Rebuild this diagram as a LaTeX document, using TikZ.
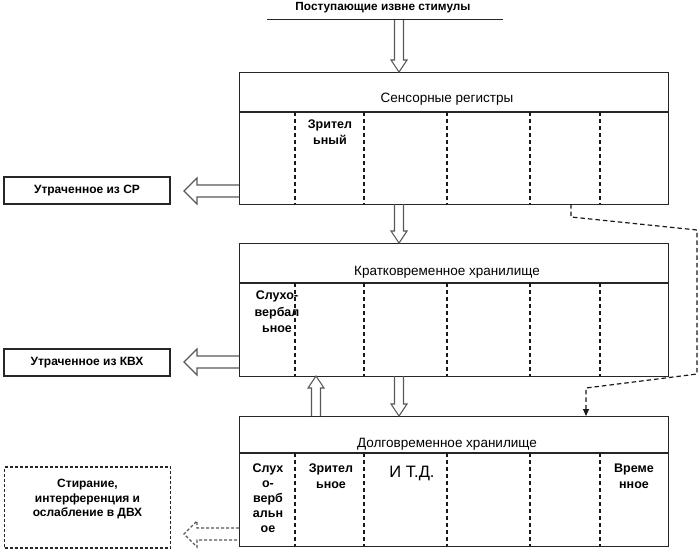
\documentclass[tikz,border=0pt]{standalone}
\usepackage{fontspec}
\setmainfont{Liberation Sans}
\usetikzlibrary{arrows.meta}
\newcommand\BArrDown[3]{\draw[barr] (#1-4.5,#2) -- (#1-4.5,#3-12) -- (#1-8,#3-12) -- (#1,#3) -- (#1+8,#3-12) -- (#1+4.5,#3-12) -- (#1+4.5,#2);}
\newcommand\BArrUp[3]{\draw[barr] (#1-4.5,#2) -- (#1-4.5,#3+12) -- (#1-8,#3+12) -- (#1,#3) -- (#1+8,#3+12) -- (#1+4.5,#3+12) -- (#1+4.5,#2);}
\newcommand\BArrLeft[4][]{\draw[barr,#1] (#3,#2-6) -- (#4+13,#2-6) -- (#4+13,#2-13) -- (#4,#2) -- (#4+13,#2+13) -- (#4+13,#2+6) -- (#3,#2+6);}
\begin{document}
\begin{tikzpicture}[x=1pt,y=-1pt,
  bx/.style={draw=black!85,line width=1.2pt,inner sep=0pt,anchor=north west,minimum width=429pt},
  sepline/.style={draw=black!85,line width=1.2pt},
  colsep/.style={draw=black!90,line width=1.1pt,dash pattern=on 4pt off 3pt},
  hdr/.style={font=\fontsize{13.5}{16}\selectfont,inner sep=0pt},
  cell/.style={font=\fontsize{12.5}{15.5}\selectfont\bfseries,align=center,inner sep=0pt,anchor=north},
  lbox/.style={draw=black!85,line width=1.1pt,minimum width=166pt,minimum height=27pt,inner sep=0pt,font=\fontsize{12}{14}\selectfont\bfseries},
  barr/.style={draw=black!65,line width=1.1pt,line join=miter},
  dline/.style={draw=black!90,line width=1.2pt,dash pattern=on 4.5pt off 3pt},
]
\useasboundingbox (0,0) rectangle (700,552);
\fill[white] (0,0) rectangle (700,552);

% top stimulus label
\node[font=\fontsize{11.8}{14}\selectfont\bfseries,inner sep=0pt] (stim) at (383,8) {Поступающие извне стимулы};
\coordinate (sl1) at (267,19);
\coordinate (sl2) at (503,19);
\draw[black!85,line width=1pt] (sl1) -- (sl2);

% Sensory registers
\node[bx,minimum height=132pt] (sr) at (239,72) {};
\draw[sepline] (239,112) -- (668,112);
\foreach \x in {295,364,447,530,600} \draw[colsep] (\x,112) -- (\x,204);
\node[hdr] (srt) at (447,99) {Сенсорные регистры};
\node[cell] (sr2) at (330,120) {Зрител\\ьный};

% Short-term store
\node[bx,minimum height=133pt] (kv) at (239,243) {};
\draw[sepline] (239,283) -- (668,283);
\foreach \x in {295,364,447,530,600} \draw[colsep] (\x,283) -- (\x,376);
\node[hdr] (kvt) at (447,272) {Кратковременное хранилище};
\node[cell,font=\fontsize{12.5}{16.5}\selectfont\bfseries] (kv1) at (277,291) {Слухо-\\вербал\\ьное};

% Long-term store
\node[bx,minimum height=130pt] (lt) at (239,416) {};
\draw[sepline] (239,453) -- (668,453);
\foreach \x in {295,364,447,530,600} \draw[colsep] (\x,453) -- (\x,546);
\node[hdr] (ltt) at (447,444) {Долговременное хранилище};
\node[cell,font=\fontsize{12.5}{14.8}\selectfont\bfseries] (lt1) at (268,464) {Слух\\о-\\верб\\альн\\ое};
\node[cell] (lt2) at (331,464) {Зрител\\ьное};
\node[font=\fontsize{16.5}{18}\selectfont,inner sep=0pt] (lt3) at (412,473) {И Т.Д.};
\node[cell] (lt7) at (634,464) {Време\\нное};

% Lost boxes
\node[lbox] (lsr) at (87,190.5) {Утраченное из СР};
\node[lbox] (lkv) at (87,362.5) {Утраченное из КВХ};
\node[lbox,minimum height=81pt,dash pattern=on 3pt off 2pt] (er) at (87.5,507.5) {};
\node[font=\fontsize{12}{14.5}\selectfont\bfseries,align=center,inner sep=0pt] (ert) at (87.5,499) {Стирание,\\интерференция и\\ослабление в ДВХ};

% block arrows
\BArrDown{399}{20}{72}
\BArrDown{399}{204}{243}
\BArrDown{399}{376}{416}
\BArrUp{316}{416}{376}
\BArrLeft{191}{239}{184}
\BArrLeft{362}{239}{184}
\BArrLeft[dash pattern=on 3pt off 2pt]{534}{239}{184}

% dashed connector SR -> LTM
\coordinate (d0) at (571,204);
\coordinate (d1) at (571,217);
\coordinate (d2) at (697,230);
\coordinate (d3) at (697,374);
\coordinate (d4) at (586,388);
\coordinate (d5) at (586,416);
\draw[dline,-{Triangle[length=7pt,width=6pt]}] (d0) -- (d1) -- (d2) -- (d3) -- (d4) -- (d5);
\end{tikzpicture}
\end{document}
